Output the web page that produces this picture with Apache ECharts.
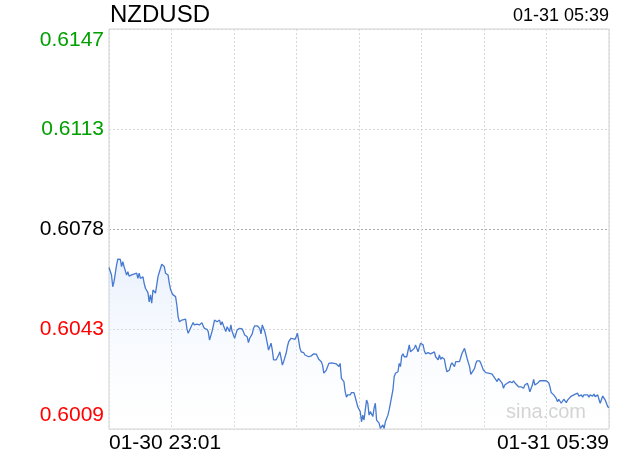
<!DOCTYPE html>
<html><head><meta charset="utf-8">
<script src="https://cdn.jsdelivr.net/npm/echarts@6/dist/echarts.min.js"></script>
<style>html,body{margin:0;padding:0;background:#fff}#c{width:620px;height:460px}</style>
</head><body><div id="c"></div>
<script>
const symbolName = 'NZDUSD';
const lastTime = '01-31 05:39';
const xTickLabels = ['01-30 23:01', '01-31 05:39'];
const yTickLabels = ['0.6009', '0.6043', '0.6078', '0.6113', '0.6147'];
const prevClose = 0.6078;
const yMin = 0.60088, yMax = 0.61472, yStep = 0.00346;
const totalMinutes = 398;

// minutes since 01-30 23:01
const minuteOffsets = [
0,2,3,4,6,7,9,10,11,12,14,15,16,18,19,22,23,24,25,27,28,29,31,32,33,34,35,37,38,39,41,42,44,45,47,48,49,50,51,53,54,55,56,57,58,59,61,62,63,64,66,67,68,70,72,74,75,76,78,79,80,82,83,84,86,88,89,90,92,93,94,96,97,98,100,101,102,104,
106,107,108,110,111,112,114,115,116,118,120,121,122,124,125,126,127,128,129,130,131,132,133,135,136,137,138,139,141,142,143,145,146,148,149,150,151,152,153,155,156,157,159,160,161,163,165,166,167,169,170,171,173,174,175,177,179,181,183,184,185,187,188,189,190,192,193,195,196,197,
198,200,201,202,203,205,206,207,208,210,211,212,213,215,216,218,219,220,222,223,224,226,227,228,230,231,232,233,234,235,237,238,239,240,241,243,244,246,247,248,250,251,252,254,256,257,259,260,262,263,264,265,267,268,269,271,272,273,275,276,277,279,280,281,283,284,285,287,288,289,291,292,293,295,296,
298,300,302,303,305,306,307,309,310,311,313,314,315,317,318,319,321,322,323,324,326,327,328,330,331,333,334,335,337,338,339,341,342,343,344,346,347,348,350,351,352,353,354,356,357,358,360,361,362,364,365,366,368,369,370,371,373,374,376,377,378,379,381,382,383,385,386,387,389,390,391,393,394,395,397,398
];
const prices = [
0.60647,0.60621,0.60580,0.60598,0.60655,0.60676,0.60675,0.60650,0.60667,0.60650,0.60621,0.60632,0.60617,0.60621,0.60627,0.60627,0.60609,0.60627,0.60609,0.60615,0.60592,0.60575,0.60560,0.60528,0.60552,0.60523,0.60569,0.60558,0.60563,0.60615,0.60644,0.60658,0.60650,0.60627,0.60621,0.60592,0.60571,0.60560,0.60552,0.60546,0.60517,0.60477,0.60459,0.60462,0.60465,0.60459,0.60468,0.60436,0.60419,0.60419,0.60448,0.60456,0.60448,0.60451,0.60448,0.60456,0.60444,0.60436,0.60433,0.60425,0.60396,0.60425,0.60431,0.60465,0.60459,0.60465,0.60448,0.60459,0.60436,0.60425,0.60442,0.60425,0.60448,0.60425,0.60402,0.60398,0.60431,0.60436,
0.60434,0.60425,0.60413,0.60407,0.60387,0.60402,0.60417,0.60436,0.60445,0.60445,0.60436,0.60417,0.60448,0.60425,0.60407,0.60385,0.60361,0.60355,0.60385,0.60361,0.60327,0.60333,0.60327,0.60344,0.60355,0.60333,0.60309,0.60321,0.60350,0.60373,0.60390,0.60402,0.60407,0.60398,0.60407,0.60419,0.60394,0.60367,0.60355,0.60352,0.60344,0.60350,0.60338,0.60344,0.60341,0.60348,0.60347,0.60338,0.60329,0.60321,0.60309,0.60281,0.60292,0.60286,0.60315,0.60317,0.60315,0.60313,0.60304,0.60315,0.60263,0.60252,0.60217,0.60198,0.60206,0.60206,0.60214,0.60214,0.60198,0.60202,
0.60165,0.60148,0.60113,0.60136,0.60119,0.60188,0.60177,0.60136,0.60148,0.60131,0.60160,0.60177,0.60119,0.60108,0.60090,0.60102,0.60090,0.60113,0.60136,0.60154,0.60177,0.60223,0.60269,0.60281,0.60286,0.60315,0.60304,0.60341,0.60348,0.60338,0.60338,0.60338,0.60379,0.60355,0.60350,0.60367,0.60379,0.60355,0.60371,0.60385,0.60379,0.60359,0.60348,0.60352,0.60348,0.60348,0.60355,0.60338,0.60327,0.60344,0.60329,0.60336,0.60329,0.60304,0.60286,0.60292,0.60309,0.60317,0.60304,0.60321,0.60327,0.60321,0.60321,0.60350,0.60367,0.60350,0.60333,0.60304,0.60277,0.60281,0.60298,0.60315,0.60324,0.60324,0.60315,
0.60292,0.60283,0.60281,0.60275,0.60278,0.60271,0.60267,0.60252,0.60263,0.60269,0.60246,0.60229,0.60240,0.60246,0.60240,0.60252,0.60248,0.60255,0.60248,0.60252,0.60234,0.60229,0.60234,0.60229,0.60240,0.60246,0.60234,0.60217,0.60240,0.60260,0.60240,0.60246,0.60240,0.60255,0.60258,0.60255,0.60258,0.60255,0.60248,0.60234,0.60214,0.60214,0.60206,0.60194,0.60182,0.60191,0.60177,0.60182,0.60191,0.60179,0.60188,0.60194,0.60202,0.60200,0.60206,0.60200,0.60212,0.60202,0.60206,0.60198,0.60206,0.60200,0.60206,0.60198,0.60206,0.60202,0.60209,0.60200,0.60206,0.60191,0.60177,0.60202,0.60206,0.60188,0.60165,0.60162
];

const seriesData = minuteOffsets.map((m, i) => [m, prices[i]]);
const FONT = '"Liberation Sans", Arial, Helvetica, sans-serif';

const chart = echarts.init(document.getElementById('c'), null, {renderer: 'canvas'});
chart.setOption({
  animation: false,
  backgroundColor: '#fff',
  grid: {left: 109, right: 11, top: 29, bottom: 31, show: true, borderColor: '#d0d0d0', borderWidth: 1, backgroundColor: 'transparent'},
  xAxis: {
    type: 'value', min: 0, max: totalMinutes, interval: totalMinutes / 8,
    axisLine: {show: false}, axisTick: {show: false},
    splitLine: {show: true, lineStyle: {color: '#d8d8d8', type: [2, 2], width: 1}},
    axisLabel: {
      show: true, showMinLabel: true, showMaxLabel: true,
      alignMinLabel: 'left', alignMaxLabel: 'right',
      color: '#000', fontSize: 21, fontFamily: FONT, margin: 4,
      formatter: function (v) {
        if (Math.abs(v) < 1e-6) return xTickLabels[0];
        if (Math.abs(v - totalMinutes) < 1e-6) return xTickLabels[1];
        return '';
      }
    }
  },
  yAxis: {
    type: 'value', min: yMin, max: yMax, interval: yStep,
    axisLine: {show: false}, axisTick: {show: false},
    splitLine: {show: true, lineStyle: {color: ['#d8d8d8', '#d8d8d8', '#aaaaaa', '#d8d8d8', '#d8d8d8'], type: [2, 2], width: 1}},
    axisLabel: {
      margin: 5, fontSize: 21, fontFamily: FONT,
      formatter: function (v, i) {
        const s = yTickLabels[i] !== undefined ? yTickLabels[i] : v.toFixed(4);
        if (v > prevClose + 1e-5) return (i === yTickLabels.length - 1 ? '{gt|' : '{g|') + s + '}';
        if (v < prevClose - 1e-5) return (i === 0 ? '{rb|' : '{r|') + s + '}';
        return '{k|' + s + '}';
      },
      rich: {
        g: {color: '#00a000', fontSize: 21, fontFamily: FONT},
        gt: {color: '#00a000', fontSize: 21, fontFamily: FONT, padding: [22, 0, 0, 0]},
        k: {color: '#000', fontSize: 21, fontFamily: FONT},
        r: {color: '#ff0000', fontSize: 21, fontFamily: FONT},
        rb: {color: '#ff0000', fontSize: 21, fontFamily: FONT, padding: [0, 0, 28, 0]}
      }
    }
  },
  graphic: [
    {type: 'text', left: 110, top: 3, style: {text: symbolName, font: '24px ' + FONT, fill: '#000'}},
    {type: 'text', right: 11, top: 7, style: {text: lastTime, font: '18px ' + FONT, fill: '#000'}},
    {type: 'text', left: 506, top: 402, z: 0, style: {text: 'sina.com', font: '20px ' + FONT, fill: '#cccccc'}}
  ],
  series: [{
    type: 'line', data: seriesData, symbol: 'none', smooth: false, clip: true,
    lineStyle: {color: '#4679d0', width: 1.3},
    areaStyle: {
      origin: 'start',
      color: new echarts.graphic.LinearGradient(0, 0, 0, 1, [
        {offset: 0, color: 'rgba(205,222,250,0.6)'},
        {offset: 1, color: 'rgba(255,255,255,0.2)'}
      ])
    }
  }]
});
</script></body></html>
